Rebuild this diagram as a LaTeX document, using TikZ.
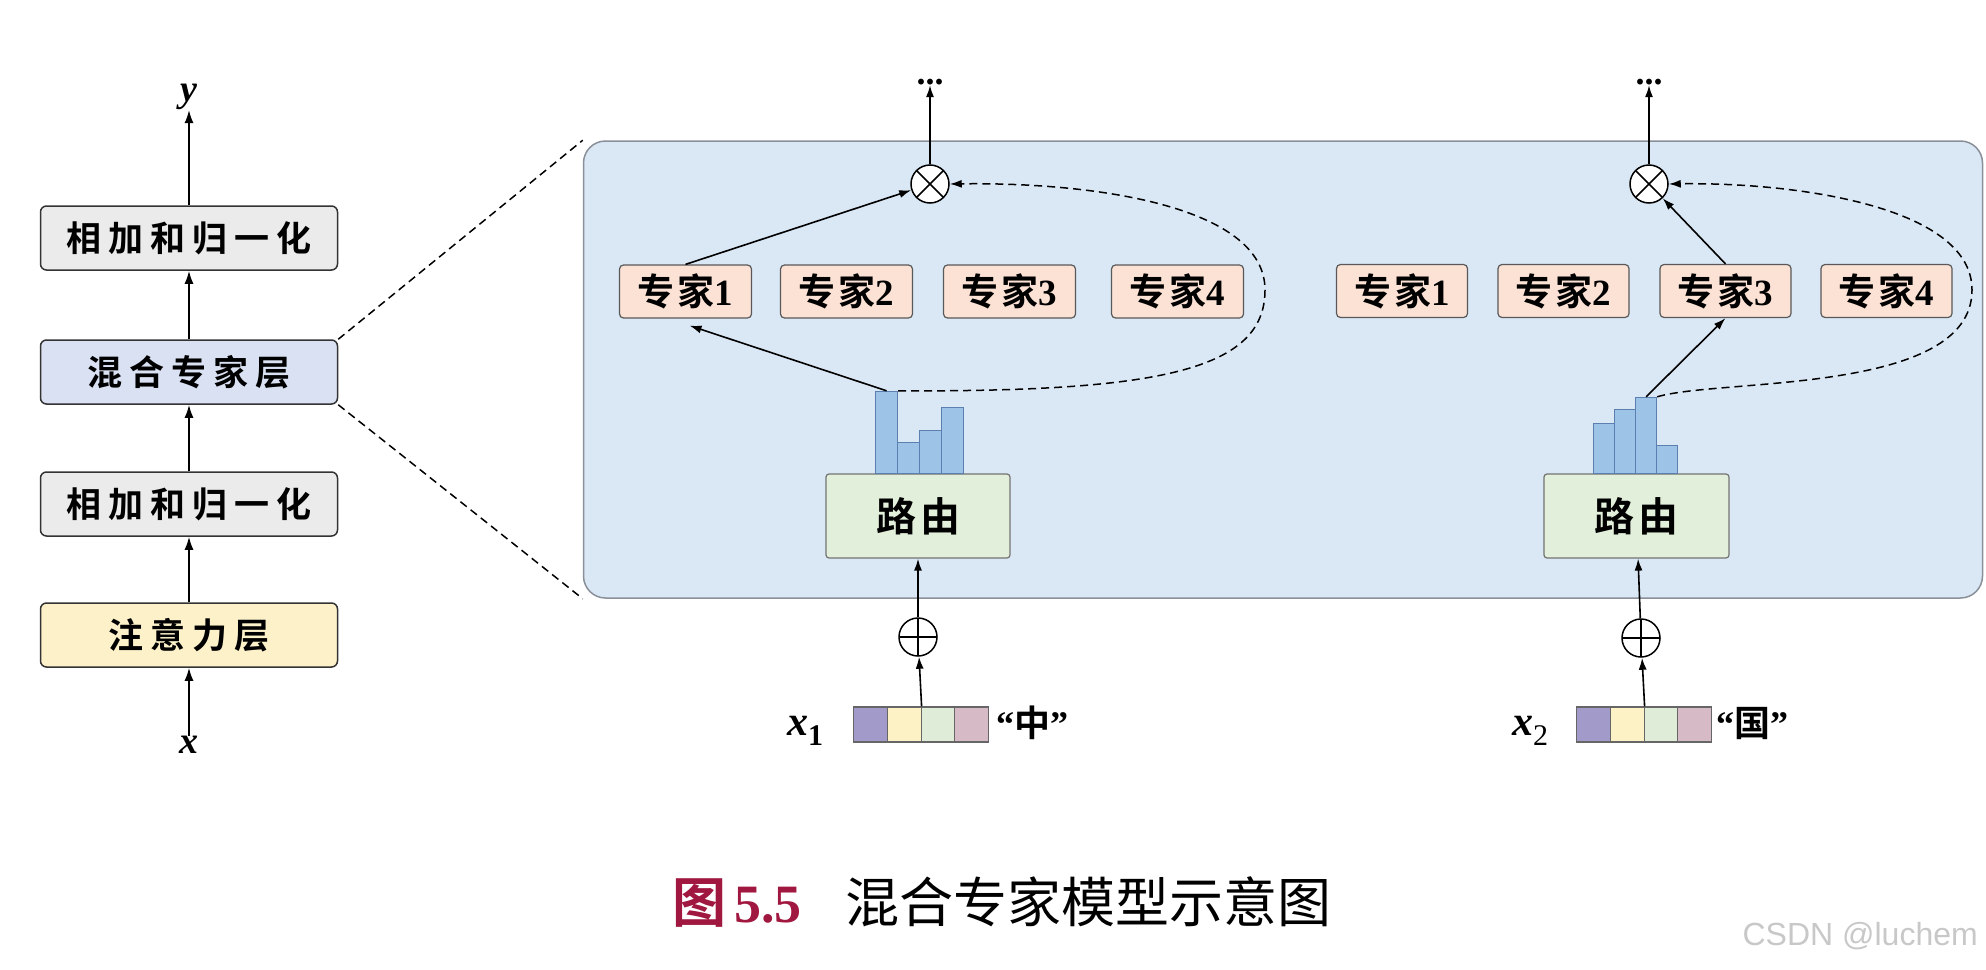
\documentclass[tikz,border=0pt]{standalone}
\usepackage{fontspec}
\setmainfont{Liberation Serif}
\newfontfamily\cjk{Noto Sans CJK SC}[BoldFont={Noto Sans CJK SC Bold}]
\newfontfamily\wmfont{Liberation Sans}
\usetikzlibrary{arrows.meta}
\definecolor{grayfill}{HTML}{EBEBEB}
\definecolor{bluefill}{HTML}{D9E1F2}
\definecolor{yellowfill}{HTML}{FCF1C9}
\definecolor{panelfill}{HTML}{DAE8F5}
\definecolor{panelline}{HTML}{8A9099}
\definecolor{expfill}{HTML}{FBE2D5}
\definecolor{routfill}{HTML}{E2EFDA}
\definecolor{barfill}{HTML}{9DC3E6}
\definecolor{barline}{HTML}{5B7FB0}
\definecolor{vpurple}{HTML}{A29BC9}
\definecolor{vyellow}{HTML}{FDF2C6}
\definecolor{vgreen}{HTML}{DEECD8}
\definecolor{vpink}{HTML}{D6BAC6}
\definecolor{capred}{HTML}{A0173F}
\definecolor{wmgray}{HTML}{C8C8C8}
\newcommand\lsp{\hspace{7pt}}
\newcommand\zj[1]{{\cjk\bfseries 专\hspace{3pt}家}\textbf{#1}}
\tikzset{
  arr/.style={line width=1.7pt, -{Latex[length=13pt,width=9pt]}},
  tarr/.style={line width=1.6pt, -{Latex[length=12pt,width=8pt]}},
  darr/.style={line width=1.5pt, dash pattern=on 8pt off 5pt, -{Latex[length=12pt,width=8pt]}},
  zoomline/.style={line width=1.5pt, dash pattern=on 8pt off 5pt},
  layer/.style={draw=black!80, line width=1.5pt, rounded corners=6pt, minimum width=297pt, minimum height=64pt, inner sep=0pt, font=\fontsize{35}{38}\selectfont\cjk\bfseries},
  panel/.style={draw=panelline, fill=panelfill, line width=1.5pt, rounded corners=22pt, minimum width=1399pt, minimum height=457pt, inner sep=0pt},
  expert/.style={draw=black!65, fill=expfill, line width=1.2pt, rounded corners=4pt, minimum width=132pt, minimum height=53pt, inner sep=0pt, font=\fontsize{37}{40}\selectfont},
  router/.style={draw=black!55, fill=routfill, line width=1.2pt, rounded corners=3pt, minimum width=184pt, minimum height=84pt, inner sep=0pt, font=\fontsize{40}{44}\selectfont\cjk\bfseries},
  bar/.style={draw=barline, fill=barfill, line width=1.2pt, inner sep=0pt, minimum width=22pt, anchor=south west},
  otimes/.style={circle, draw, fill=white, line width=1.5pt, minimum size=38pt, inner sep=0pt,
    path picture={\draw[line width=1.5pt] (path picture bounding box.north west) -- (path picture bounding box.south east) (path picture bounding box.north east) -- (path picture bounding box.south west);}},
  oplus/.style={circle, draw, line width=1.5pt, minimum size=38pt, inner sep=0pt,
    path picture={\draw[line width=1.5pt] (path picture bounding box.north) -- (path picture bounding box.south) (path picture bounding box.east) -- (path picture bounding box.west);}},
  cell/.style={draw=black!60, line width=1.1pt, minimum width=33.75pt, minimum height=35pt, inner sep=0pt, anchor=west},
  lbl/.style={inner sep=0pt, font=\fontsize{36}{40}\selectfont\bfseries},
  dots/.style={inner sep=0pt, font=\fontsize{36}{40}\selectfont\bfseries},
}
\begin{document}
\begin{tikzpicture}[x=1pt,y=-1pt]
\useasboundingbox (0,0) rectangle (1986,969);
% ---------------- left column ----------------
\node[lbl, font=\fontsize{38}{40}\selectfont\bfseries\itshape] (y) at (189,97) {y};
\node[layer, fill=grayfill] (n2) at (189,238) {相\lsp 加\lsp 和\lsp 归\lsp 一\lsp 化};
\node[layer, fill=bluefill] (moe) at (189,372) {混\lsp 合\lsp 专\lsp 家\lsp 层};
\node[layer, fill=grayfill] (n1) at (189,504) {相\lsp 加\lsp 和\lsp 归\lsp 一\lsp 化};
\node[layer, fill=yellowfill] (att) at (189,635) {注\lsp 意\lsp 力\lsp 层};
\node[lbl, font=\fontsize{38}{40}\selectfont\bfseries\itshape] (x) at (189,745) {x};
\draw[arr] (x) -- (att);
\draw[arr] (att) -- (n1);
\draw[arr] (n1) -- (moe);
\draw[arr] (moe) -- (n2);
\draw[arr] (n2) -- (y);
% ---------------- panel ----------------
\node[panel] (panel) at (1283,369.5) {};
\draw[zoomline] (moe.north east) -- (panel.north west);
\draw[zoomline] (moe.south east) -- (panel.south west);
% ---------------- left MoE ----------------
\node[expert] (e1) at (685.5,291.5) {\zj{1}};
\node[expert] (e2) at (846.5,291.5) {\zj{2}};
\node[expert] (e3) at (1009.5,291.5) {\zj{3}};
\node[expert] (e4) at (1177.5,291.5) {\zj{4}};
\node[router] (r1) at (918,516) {路\hspace{4pt}由};
\node[bar, minimum height=82pt] (b1) at (875,474) {};
\node[bar, minimum height=31pt] (b2) at (897,474) {};
\node[bar, minimum height=43pt] (b3) at (919,474) {};
\node[bar, minimum height=66pt] (b4) at (941,474) {};
\node[otimes] (o1) at (930,184) {};
\node[dots] (d1) at (930,82) {...};
\draw[tarr] (o1) -- (d1);
\draw[tarr] (b1.north) -- ([xshift=4pt,yshift=-7pt]e1.south);
\draw[tarr] (e1.north) -- (o1);
\draw[darr] (b1.north east) .. controls (1160,392) and (1265,370) .. (1265,290)
  .. controls (1265,205) and (1090,182) .. (o1.east);
\node[oplus] (p1) at (918,637) {};
\node[cell, fill=vpurple] (v11) at (853,724.5) {};
\node[cell, fill=vyellow] (v12) at (886.75,724.5) {};
\node[cell, fill=vgreen] (v13) at (920.5,724.5) {};
\node[cell, fill=vpink] (v14) at (954.25,724.5) {};
\draw[tarr] (v12.north east) -- (p1);
\draw[tarr] (p1) -- (r1);
\node[lbl, anchor=center] (x1) at (805,731) {{\fontsize{42}{44}\selectfont\itshape x}\raisebox{-10pt}{\fontsize{30}{32}\selectfont 1}};
\node[lbl, anchor=west] (t1) at (996,723) {“{\cjk\bfseries 中}”};
% ---------------- right MoE ----------------
\node[expert, minimum width=131pt] (e5) at (1402,291) {\zj{1}};
\node[expert, minimum width=131pt] (e6) at (1563.5,291) {\zj{2}};
\node[expert, minimum width=131pt] (e7) at (1725.5,291) {\zj{3}};
\node[expert, minimum width=131pt] (e8) at (1886.5,291) {\zj{4}};
\node[router, minimum width=185pt] (r2) at (1636.5,516) {路\hspace{4pt}由};
\node[bar, minimum height=50pt, minimum width=21pt] (b5) at (1593,474) {};
\node[bar, minimum height=64pt, minimum width=21pt] (b6) at (1614,474) {};
\node[bar, minimum height=76pt, minimum width=21pt] (b7) at (1635,474) {};
\node[bar, minimum height=28pt, minimum width=21pt] (b8) at (1656,474) {};
\node[otimes] (o2) at (1649,184) {};
\node[dots] (d2) at (1649,82) {...};
\draw[tarr] (o2) -- (d2);
\draw[tarr] (b7.north) -- (e7.south);
\draw[tarr] (e7.north) -- (o2);
\draw[darr] (b7.north east) .. controls (1720,378) and (1972,395) .. (1972,290)
  .. controls (1972,205) and (1790,182) .. (o2.east);
\node[oplus] (p2) at (1641,638) {};
\node[cell, fill=vpurple] (v21) at (1576,724.5) {};
\node[cell, fill=vyellow] (v22) at (1609.75,724.5) {};
\node[cell, fill=vgreen] (v23) at (1643.5,724.5) {};
\node[cell, fill=vpink] (v24) at (1677.25,724.5) {};
\draw[tarr] (v22.north east) -- (p2);
\draw[tarr] (p2) -- (r2);
\node[lbl, anchor=center] (x2) at (1530,731) {{\fontsize{42}{44}\selectfont\itshape x}\raisebox{-10pt}{\fontsize{30}{32}\selectfont\mdseries 2}};
\node[lbl, anchor=west] (t2) at (1716,723) {“{\cjk\bfseries 国}”};
% ---------------- caption ----------------
\node[anchor=west, inner sep=0pt, font=\fontsize{54}{60}\selectfont] (cap) at (672,902)
  {{\color{capred}{\cjk\bfseries 图}\hspace{8pt}\textbf{5.5}}\hspace{44pt}{\cjk 混合专家模型示意图}};
\node[anchor=east, inner sep=0pt, text=wmgray, font=\fontsize{32}{36}\selectfont\wmfont] (wm) at (1978,936) {CSDN @luchem};
\end{tikzpicture}
\end{document}
